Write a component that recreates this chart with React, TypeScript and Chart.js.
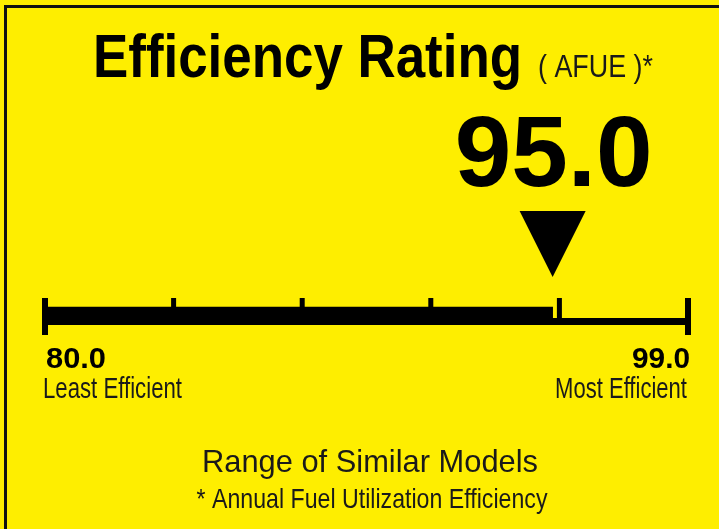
import React, { useEffect, useRef } from 'react';
import { Chart, registerables } from 'chart.js';

Chart.register(...registerables);

// ---- data ----
const categories = ['AFUE'];
const ratingValue = 95.0;
const rangeMin = 80.0;
const rangeMax = 99.0;
const tickValues = [80.0, 83.8, 87.6, 91.4, 95.2, 99.0];
const barRange: [number, number] = [rangeMin, ratingValue];
const titleText = 'Efficiency Rating';
const titleNote = '( AFUE )*';
const minValueLabel = '80.0';
const maxValueLabel = '99.0';
const ratingLabel = '95.0';
const minLabel = 'Least Efficient';
const maxLabel = 'Most Efficient';
const footerTitle = 'Range of Similar Models';
const footerNote = '* Annual Fuel Utilization Efficiency';

const FONT = '"Liberation Sans", Arial, Helvetica, sans-serif';
const YELLOW = '#FEEE00';
const INK = '#000000';
const SOFT_INK = '#1a1a1a';

function fitText(
  ctx: CanvasRenderingContext2D,
  text: string,
  x: number,
  y: number,
  size: number,
  weight: string,
  width: number,
  align: 'left' | 'right' | 'center',
  color: string
) {
  ctx.save();
  ctx.font = `${weight} ${size}px ${FONT}`;
  const w = ctx.measureText(text).width;
  const s = width / w;
  const left = align === 'left' ? x : align === 'right' ? x - width : x - width / 2;
  ctx.translate(left, y);
  ctx.scale(s, 1);
  ctx.textAlign = 'left';
  ctx.textBaseline = 'alphabetic';
  ctx.fillStyle = color;
  ctx.fillText(text, 0, 0);
  ctx.restore();
}

const labelPlugin = {
  id: 'energyLabel',
  beforeDraw(chart: any) {
    const { ctx, width, height } = chart;
    ctx.save();
    ctx.fillStyle = YELLOW;
    ctx.fillRect(0, 0, width, height);
    ctx.fillStyle = '#111';
    ctx.fillRect(4, 5, width - 4, 3);
    ctx.fillRect(4, 5, 3, height - 5);
    ctx.restore();
  },
  afterDatasetsDraw(chart: any) {
    const { ctx } = chart;
    const xs = chart.scales.x;
    const yc = chart.scales.y.getPixelForValue(0);
    const x0 = xs.getPixelForValue(rangeMin);
    const x1 = xs.getPixelForValue(rangeMax);
    ctx.save();
    ctx.fillStyle = INK;
    // axis line
    ctx.fillRect(x0, yc + 4, x1 - x0, 7);
    // ticks
    tickValues.forEach((v, i) => {
      const px = xs.getPixelForValue(v);
      if (i === 0 || i === tickValues.length - 1) {
        ctx.fillRect(px - 3, yc - 16, 6, 37);
      } else {
        ctx.fillRect(px - 2.5, yc - 16, 5, 20);
      }
    });
    // marker triangle
    const mx = xs.getPixelForValue(ratingValue);
    ctx.beginPath();
    ctx.moveTo(mx - 33, yc - 103);
    ctx.lineTo(mx + 33, yc - 103);
    ctx.lineTo(mx, yc - 37);
    ctx.closePath();
    ctx.fill();
    ctx.restore();

    // texts
    fitText(ctx, titleText, 93, 77, 61, 'bold', 429, 'left', INK);
    fitText(ctx, titleNote, 538, 77, 32, 'normal', 115, 'left', SOFT_INK);
    fitText(ctx, ratingLabel, mx + 1, 186, 100, 'bold', 198, 'center', INK);
    fitText(ctx, minValueLabel, 46, 368, 30, 'bold', 60, 'left', INK);
    fitText(ctx, maxValueLabel, 690, 368, 30, 'bold', 58, 'right', INK);
    fitText(ctx, minLabel, 43, 398, 29, 'normal', 139, 'left', SOFT_INK);
    fitText(ctx, maxLabel, 687, 398, 29, 'normal', 132, 'right', SOFT_INK);
    fitText(ctx, footerTitle, 370, 472, 32, 'normal', 336, 'center', SOFT_INK);
    fitText(ctx, footerNote, 372, 508, 28, 'normal', 351, 'center', SOFT_INK);
  },
};

export default function App() {
  const canvasRef = useRef<HTMLCanvasElement | null>(null);

  useEffect(() => {
    if (!canvasRef.current) return;
    const chart = new Chart(canvasRef.current, {
      type: 'bar',
      data: {
        labels: categories,
        datasets: [
          {
            label: 'AFUE',
            data: [barRange as any],
            backgroundColor: INK,
            borderWidth: 0,
            borderSkipped: false,
            barThickness: 14,
          },
        ],
      },
      options: {
        indexAxis: 'y',
        responsive: false,
        animation: false,
        devicePixelRatio: 1,
        layout: { padding: { left: 45, right: 31, top: 298, bottom: 199 } },
        plugins: { legend: { display: false }, tooltip: { enabled: false }, title: { display: false } },
        scales: {
          x: { type: 'linear', min: rangeMin, max: rangeMax, display: false },
          y: { type: 'category', display: false },
        },
      },
      plugins: [labelPlugin],
    });
    return () => chart.destroy();
  }, []);

  return (
    <div style={{ position: 'fixed', left: 0, top: 0, width: 719, height: 529 }}>
      <canvas ref={canvasRef} width={719} height={529} style={{ display: 'block', width: 719, height: 529 }} />
    </div>
  );
}
